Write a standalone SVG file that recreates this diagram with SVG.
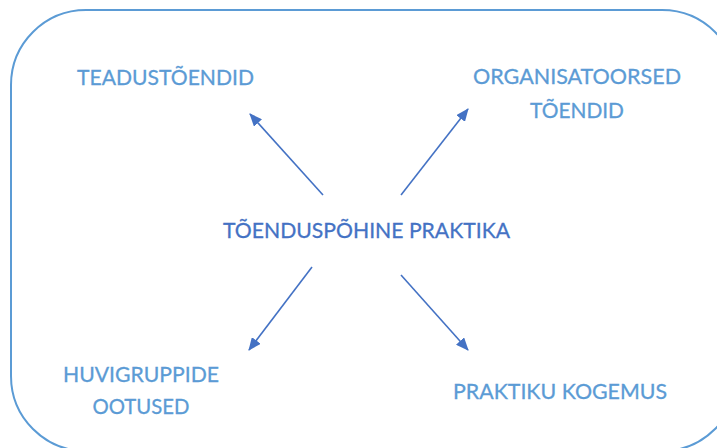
<svg xmlns="http://www.w3.org/2000/svg" width="717" height="448" viewBox="0 0 717 448">
<style>
  .lbl { font-family: Lato, "Open Sans", "Liberation Sans", sans-serif; font-size: 21.5px; text-anchor: middle; fill: #5b9bd5; stroke: #5b9bd5; stroke-width: 0.3; }
  .ctr { fill: #4472c4; stroke: #4472c4; }
  .conn { stroke: #4472c4; stroke-width: 1.6; fill: none; marker-end: url(#arr); }
</style>
<defs>
  <marker id="arr" viewBox="0 0 13 11" refX="12" refY="5.5" markerWidth="13" markerHeight="11" markerUnits="userSpaceOnUse" orient="auto">
    <path d="M0,0 L13,5.5 L0,11 Z" fill="#4472c4"/>
  </marker>
</defs>
<rect id="frame" x="11" y="10" width="726" height="441" rx="75" ry="75" fill="#ffffff" stroke="#5b9bd5" stroke-width="2"/>
<g id="connectors">
  <line class="conn" x1="323" y1="195" x2="250" y2="114"/>
  <line class="conn" x1="401" y1="195" x2="468" y2="109"/>
  <line class="conn" x1="312" y1="267" x2="249" y2="350"/>
  <line class="conn" x1="401" y1="275" x2="468" y2="350"/>
</g>
<g id="center"><text class="lbl ctr" x="366.5" y="238" textLength="287" lengthAdjust="spacingAndGlyphs">TÕENDUSPÕHINE PRAKTIKA</text></g>
<g id="teadus"><text class="lbl" x="165.5" y="85" textLength="177" lengthAdjust="spacingAndGlyphs">TEADUSTÕENDID</text></g>
<g id="organisatoorsed">
  <text class="lbl" x="577" y="84" textLength="208" lengthAdjust="spacingAndGlyphs">ORGANISATOORSED</text>
  <text class="lbl" x="577" y="118" textLength="94" lengthAdjust="spacingAndGlyphs">TÕENDID</text>
</g>
<g id="huvigrupid">
  <text class="lbl" x="141" y="382" textLength="156" lengthAdjust="spacingAndGlyphs">HUVIGRUPPIDE</text>
  <text class="lbl" x="141" y="414" textLength="97" lengthAdjust="spacingAndGlyphs">OOTUSED</text>
</g>
<g id="kogemus"><text class="lbl" x="560" y="399" textLength="214" lengthAdjust="spacingAndGlyphs">PRAKTIKU KOGEMUS</text></g>
</svg>
